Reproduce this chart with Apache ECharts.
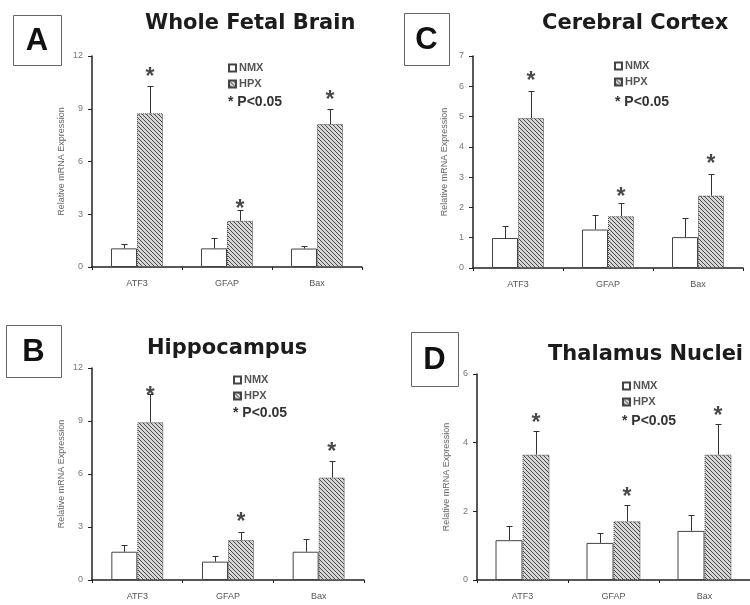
<!DOCTYPE html>
<html>
<head>
<meta charset="utf-8">
<script src="https://cdn.jsdelivr.net/npm/echarts@6/dist/echarts.min.js"></script>
<style>
html,body{margin:0;padding:0;background:#fff;}
#chart{width:750px;height:605px;}
</style>
</head>
<body>
<div id="chart"></div>
<script>
// ---------------- data ----------------
const categories = ['ATF3', 'GFAP', 'Bax'];
const seriesNames = ['NMX', 'HPX'];

// A: Whole Fetal Brain
const nmxA = [1.06, 1.06, 1.05];
const nmxSemA = [0.23, 0.61, 0.15];
const hpxA = [8.74, 2.63, 8.13];
const hpxSemA = [1.56, 0.61, 0.86];
const starA = [10.98, 3.47, 9.69];

// C: Cerebral Cortex
const nmxC = [0.99, 1.27, 1.02];
const nmxSemC = [0.41, 0.49, 0.62];
const hpxC = [4.95, 1.71, 2.39];
const hpxSemC = [0.90, 0.42, 0.71];
const starC = [6.28, 2.46, 3.55];

// B: Hippocampus
const nmxB = [1.60, 1.04, 1.60];
const nmxSemB = [0.40, 0.32, 0.70];
const hpxB = [8.93, 2.26, 5.80];
const hpxSemB = [1.58, 0.47, 0.94];
const starB = [10.62, 3.45, 7.44];

// D: Thalamus Nuclei
const nmxD = [1.16, 1.08, 1.43];
const nmxSemD = [0.40, 0.29, 0.47];
const hpxD = [3.65, 1.71, 3.65];
const hpxSemD = [0.68, 0.46, 0.89];
const starD = [4.67, 2.51, 4.86];

const yMaxes = [12, 7, 12, 6];
const yIntervals = [3, 1, 3, 2];
const titles = ['Whole Fetal Brain', 'Cerebral Cortex', 'Hippocampus', 'Thalamus Nuclei'];
const letters = ['A', 'C', 'B', 'D'];
const yAxisName = 'Relative mRNA Expression';
const sigText = '* P<0.05';

// ---------------- layout / style ----------------
const panels = [
  { nmx: nmxA, nmxSem: nmxSemA, hpx: hpxA, hpxSem: hpxSemA, star: starA,
    grid: { left: 92, top: 56, width: 270, height: 211 }, bw: 26, nameGap: 26,
    titlePos: { left: 145, top: 13 }, box: [13, 15, 48, 50],
    legend: { left: 228, top: 62 }, sig: [228, 102] },
  { nmx: nmxC, nmxSem: nmxSemC, hpx: hpxC, hpxSem: hpxSemC, star: starC,
    grid: { left: 473, top: 56, width: 270, height: 212 }, bw: 26, nameGap: 24,
    titlePos: { left: 542, top: 13 }, box: [404, 13, 45, 52],
    legend: { left: 614, top: 60 }, sig: [615, 102] },
  { nmx: nmxB, nmxSem: nmxSemB, hpx: hpxB, hpxSem: hpxSemB, star: starB,
    grid: { left: 92, top: 368, width: 272, height: 212 }, bw: 26, nameGap: 26,
    titlePos: { left: 147, top: 338 }, box: [6, 325, 55, 52],
    legend: { left: 233, top: 374 }, sig: [233, 413] },
  { nmx: nmxD, nmxSem: nmxSemD, hpx: hpxD, hpxSem: hpxSemD, star: starD,
    grid: { left: 477, top: 374, width: 280, height: 206 }, bw: 27, nameGap: 26,
    titlePos: { left: 548, top: 344 }, box: [411, 332, 47, 54],
    legend: { left: 622, top: 380 }, sig: [622, 421] }
];

// hatch pattern
function makeHatch() {
  const c = document.createElement('canvas');
  const s = 4;
  c.width = s; c.height = s;
  const ctx = c.getContext('2d');
  ctx.fillStyle = '#d6d6d6';
  ctx.fillRect(0, 0, s, s);
  ctx.strokeStyle = '#4a4a4a';
  ctx.lineWidth = 1;
  ctx.beginPath();
  ctx.moveTo(0, 0); ctx.lineTo(s, s);
  ctx.moveTo(-1, s - 1); ctx.lineTo(1, s + 1);
  ctx.moveTo(s - 1, -1); ctx.lineTo(s + 1, 1);
  ctx.stroke();
  return c;
}
const hatch = { image: makeHatch(), repeat: 'repeat' };

const axisColor = '#222';
const labelFont = 'Liberation Sans, Arial, sans-serif';

const option = {
  animation: false,
  backgroundColor: '#fff',
  title: [],
  legend: [],
  grid: [],
  xAxis: [],
  yAxis: [],
  series: [],
  graphic: []
};

function errorSeries(gi, means, sems, offset) {
  return {
    type: 'custom',
    xAxisIndex: gi, yAxisIndex: gi,
    z: 5,
    data: means.map((m, i) => [i, m, m + sems[i]]),
    renderItem: function (params, api) {
      const base = api.coord([api.value(0), api.value(1)]);
      const top = api.coord([api.value(0), api.value(2)]);
      const x = Math.round(base[0] + offset) + 0.5;
      const yt = Math.round(top[1]) + 0.5;
      return {
        type: 'group',
        children: [
          { type: 'line', shape: { x1: x, y1: base[1], x2: x, y2: yt }, style: { stroke: '#333', lineWidth: 1 } },
          { type: 'line', shape: { x1: x - 3, y1: yt, x2: x + 3, y2: yt }, style: { stroke: '#333', lineWidth: 1 } }
        ]
      };
    }
  };
}

panels.forEach((p, gi) => {
  option.grid.push(Object.assign({ containLabel: false }, p.grid));
  option.xAxis.push({
    type: 'category', gridIndex: gi, data: categories,
    axisLine: { lineStyle: { color: axisColor, width: 1.5 } },
    axisTick: { show: true, length: 3, lineStyle: { color: axisColor } },
    axisLabel: { color: '#555', fontSize: 9, fontFamily: labelFont, margin: 12 },
    splitLine: { show: false }
  });
  option.yAxis.push({
    type: 'value', gridIndex: gi, min: 0, max: yMaxes[gi], interval: yIntervals[gi],
    name: yAxisName, nameLocation: 'middle', nameGap: p.nameGap,
    nameTextStyle: { color: '#666', fontSize: 9, fontFamily: labelFont },
    axisLine: { show: true, lineStyle: { color: axisColor, width: 1.5 } },
    axisTick: { show: true, length: 4, lineStyle: { color: axisColor } },
    axisLabel: { color: '#777', fontSize: 9, fontFamily: labelFont, margin: 9 },
    splitLine: { show: false }
  });
  option.series.push({
    name: seriesNames[0], type: 'bar', xAxisIndex: gi, yAxisIndex: gi,
    data: p.nmx, barWidth: p.bw, barGap: '0%',
    itemStyle: { color: '#ffffff', borderColor: '#444', borderWidth: 1 }
  });
  option.series.push({
    name: seriesNames[1], type: 'bar', xAxisIndex: gi, yAxisIndex: gi,
    data: p.hpx, barWidth: p.bw, barGap: '0%',
    itemStyle: { color: hatch, borderColor: '#444', borderWidth: 1, borderType: 'dotted' }
  });
  option.series.push(errorSeries(gi, p.nmx, p.nmxSem, -p.bw / 2));
  option.series.push(errorSeries(gi, p.hpx, p.hpxSem, p.bw / 2));
  option.series.push({
    type: 'scatter', xAxisIndex: gi, yAxisIndex: gi, z: 6,
    data: p.star, symbolSize: 1, itemStyle: { color: 'rgba(0,0,0,0)' },
    label: {
      show: true, formatter: '*', position: 'inside',
      offset: [p.bw / 2, 4],
      color: '#1a1a1a', fontSize: 23, fontWeight: 'bold', fontFamily: labelFont,
      verticalAlign: 'middle', align: 'center'
    }
  });
  option.title.push({
    text: titles[gi], left: p.titlePos.left, top: p.titlePos.top, padding: 0,
    textStyle: { fontFamily: 'DejaVu Sans', fontWeight: 'bold', fontSize: 21, color: '#1c1c1c' }
  });
  option.legend.push({
    left: p.legend.left, top: p.legend.top, orient: 'vertical',
    data: seriesNames.map(n => ({ name: n, icon: 'rect' })), selectedMode: false,
    itemWidth: 7, itemHeight: 7, itemGap: 4, padding: 0,
    textStyle: { color: '#555', fontSize: 11, fontWeight: 'bold', fontFamily: labelFont, lineHeight: 12, padding: [0, 0, 0, -2] }
  });
  const b = p.box;
  option.graphic.push({
    type: 'rect', left: b[0], top: b[1],
    shape: { width: b[2], height: b[3] },
    style: { fill: '#fff', stroke: '#666', lineWidth: 1 }
  });
  option.graphic.push({
    type: 'text', x: b[0] + b[2] / 2, y: b[1] + b[3] / 2 + 1,
    style: { text: letters[gi], fill: '#111', font: 'bold 31px Liberation Sans, Arial, sans-serif', textAlign: 'center', textVerticalAlign: 'middle' }
  });
  option.graphic.push({
    type: 'text', x: p.sig[0], y: p.sig[1],
    style: { text: sigText, fill: '#333', font: 'bold 14px Liberation Sans, Arial, sans-serif', textAlign: 'left', textVerticalAlign: 'middle' }
  });
});

const chart = echarts.init(document.getElementById('chart'), null, { renderer: 'canvas' });
chart.setOption(option);
</script>
</body>
</html>
